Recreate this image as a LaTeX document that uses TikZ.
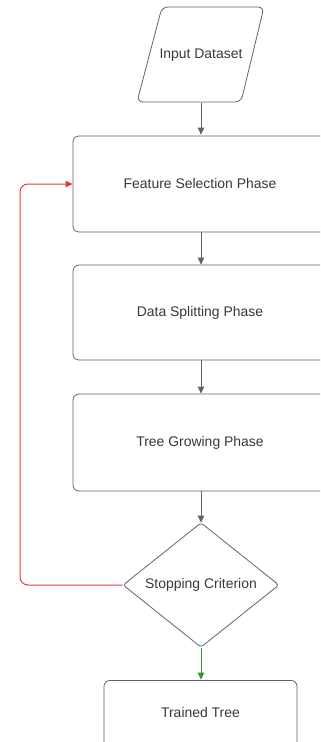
\documentclass[tikz,border=0pt]{standalone}
\usepackage{fontspec}
\setmainfont{Liberation Sans}
\usetikzlibrary{shapes.geometric,arrows.meta}
\definecolor{edge}{HTML}{5F636A}
\definecolor{txt}{HTML}{34373C}
\definecolor{redl}{HTML}{E8383B}
\definecolor{greenl}{HTML}{2E9A2E}
\tikzset{
  lbl/.style={text=txt, font=\fontsize{14}{16}\selectfont},
  box/.style={draw=edge, line width=0.8bp, rounded corners=6bp, minimum width=254bp, inner sep=0pt, lbl},
  conn/.style={draw=edge, line width=1bp, -{Triangle[width=6.5bp,length=7bp]}},
}
\begin{document}
\begin{tikzpicture}[x=1bp,y=-1bp]
\useasboundingbox (0,0) rectangle (320,742);
\clip (0,0) rectangle (320,742);
% input parallelogram
\draw[edge, line width=0.8bp, rounded corners=6bp] (162,7) -- (264,7) -- (241,102) -- (137,102) -- cycle;
\node[inner sep=0pt, minimum width=100bp, minimum height=95bp, lbl] (inp) at (201,55.5) {Input Dataset};
\node[box, minimum height=96bp] (fs) at (200,184) {Feature Selection Phase};
\node[box, minimum height=95bp] (ds) at (200,312.5) {Data Splitting Phase};
\node[box, minimum height=97bp] (tg) at (200,442.5) {Tree Growing Phase};
\node[draw=edge, line width=0.8bp, diamond, inner sep=0pt, minimum width=156bp, minimum height=124bp, rounded corners=3bp, lbl] (sc) at (201,585) {Stopping Criterion};
\node[draw=edge, line width=0.8bp, rounded corners=6bp, minimum width=193bp, minimum height=70bp, inner sep=0pt, anchor=north] (tt) at (200.5,680) {};
\node[lbl] (ttl) at (200.5,713) {Trained Tree};
\draw[conn] (inp.south) -- (201,134.6);
\draw[conn] (201,232) -- (201,264.6);
\draw[conn] (201,360) -- (201,393.6);
\draw[conn] (201,491) -- (201,522.6);
\draw[conn, draw=greenl, -{Triangle[width=6.5bp,length=7bp,fill=greenl]}] (sc.south) -- (201,679.6);
\draw[draw=redl, line width=1bp, rounded corners=8bp, -{Triangle[width=6.5bp,length=7bp]}] (sc.west) -- (20,585) -- (20,184) -- (fs.west);
\end{tikzpicture}
\end{document}
